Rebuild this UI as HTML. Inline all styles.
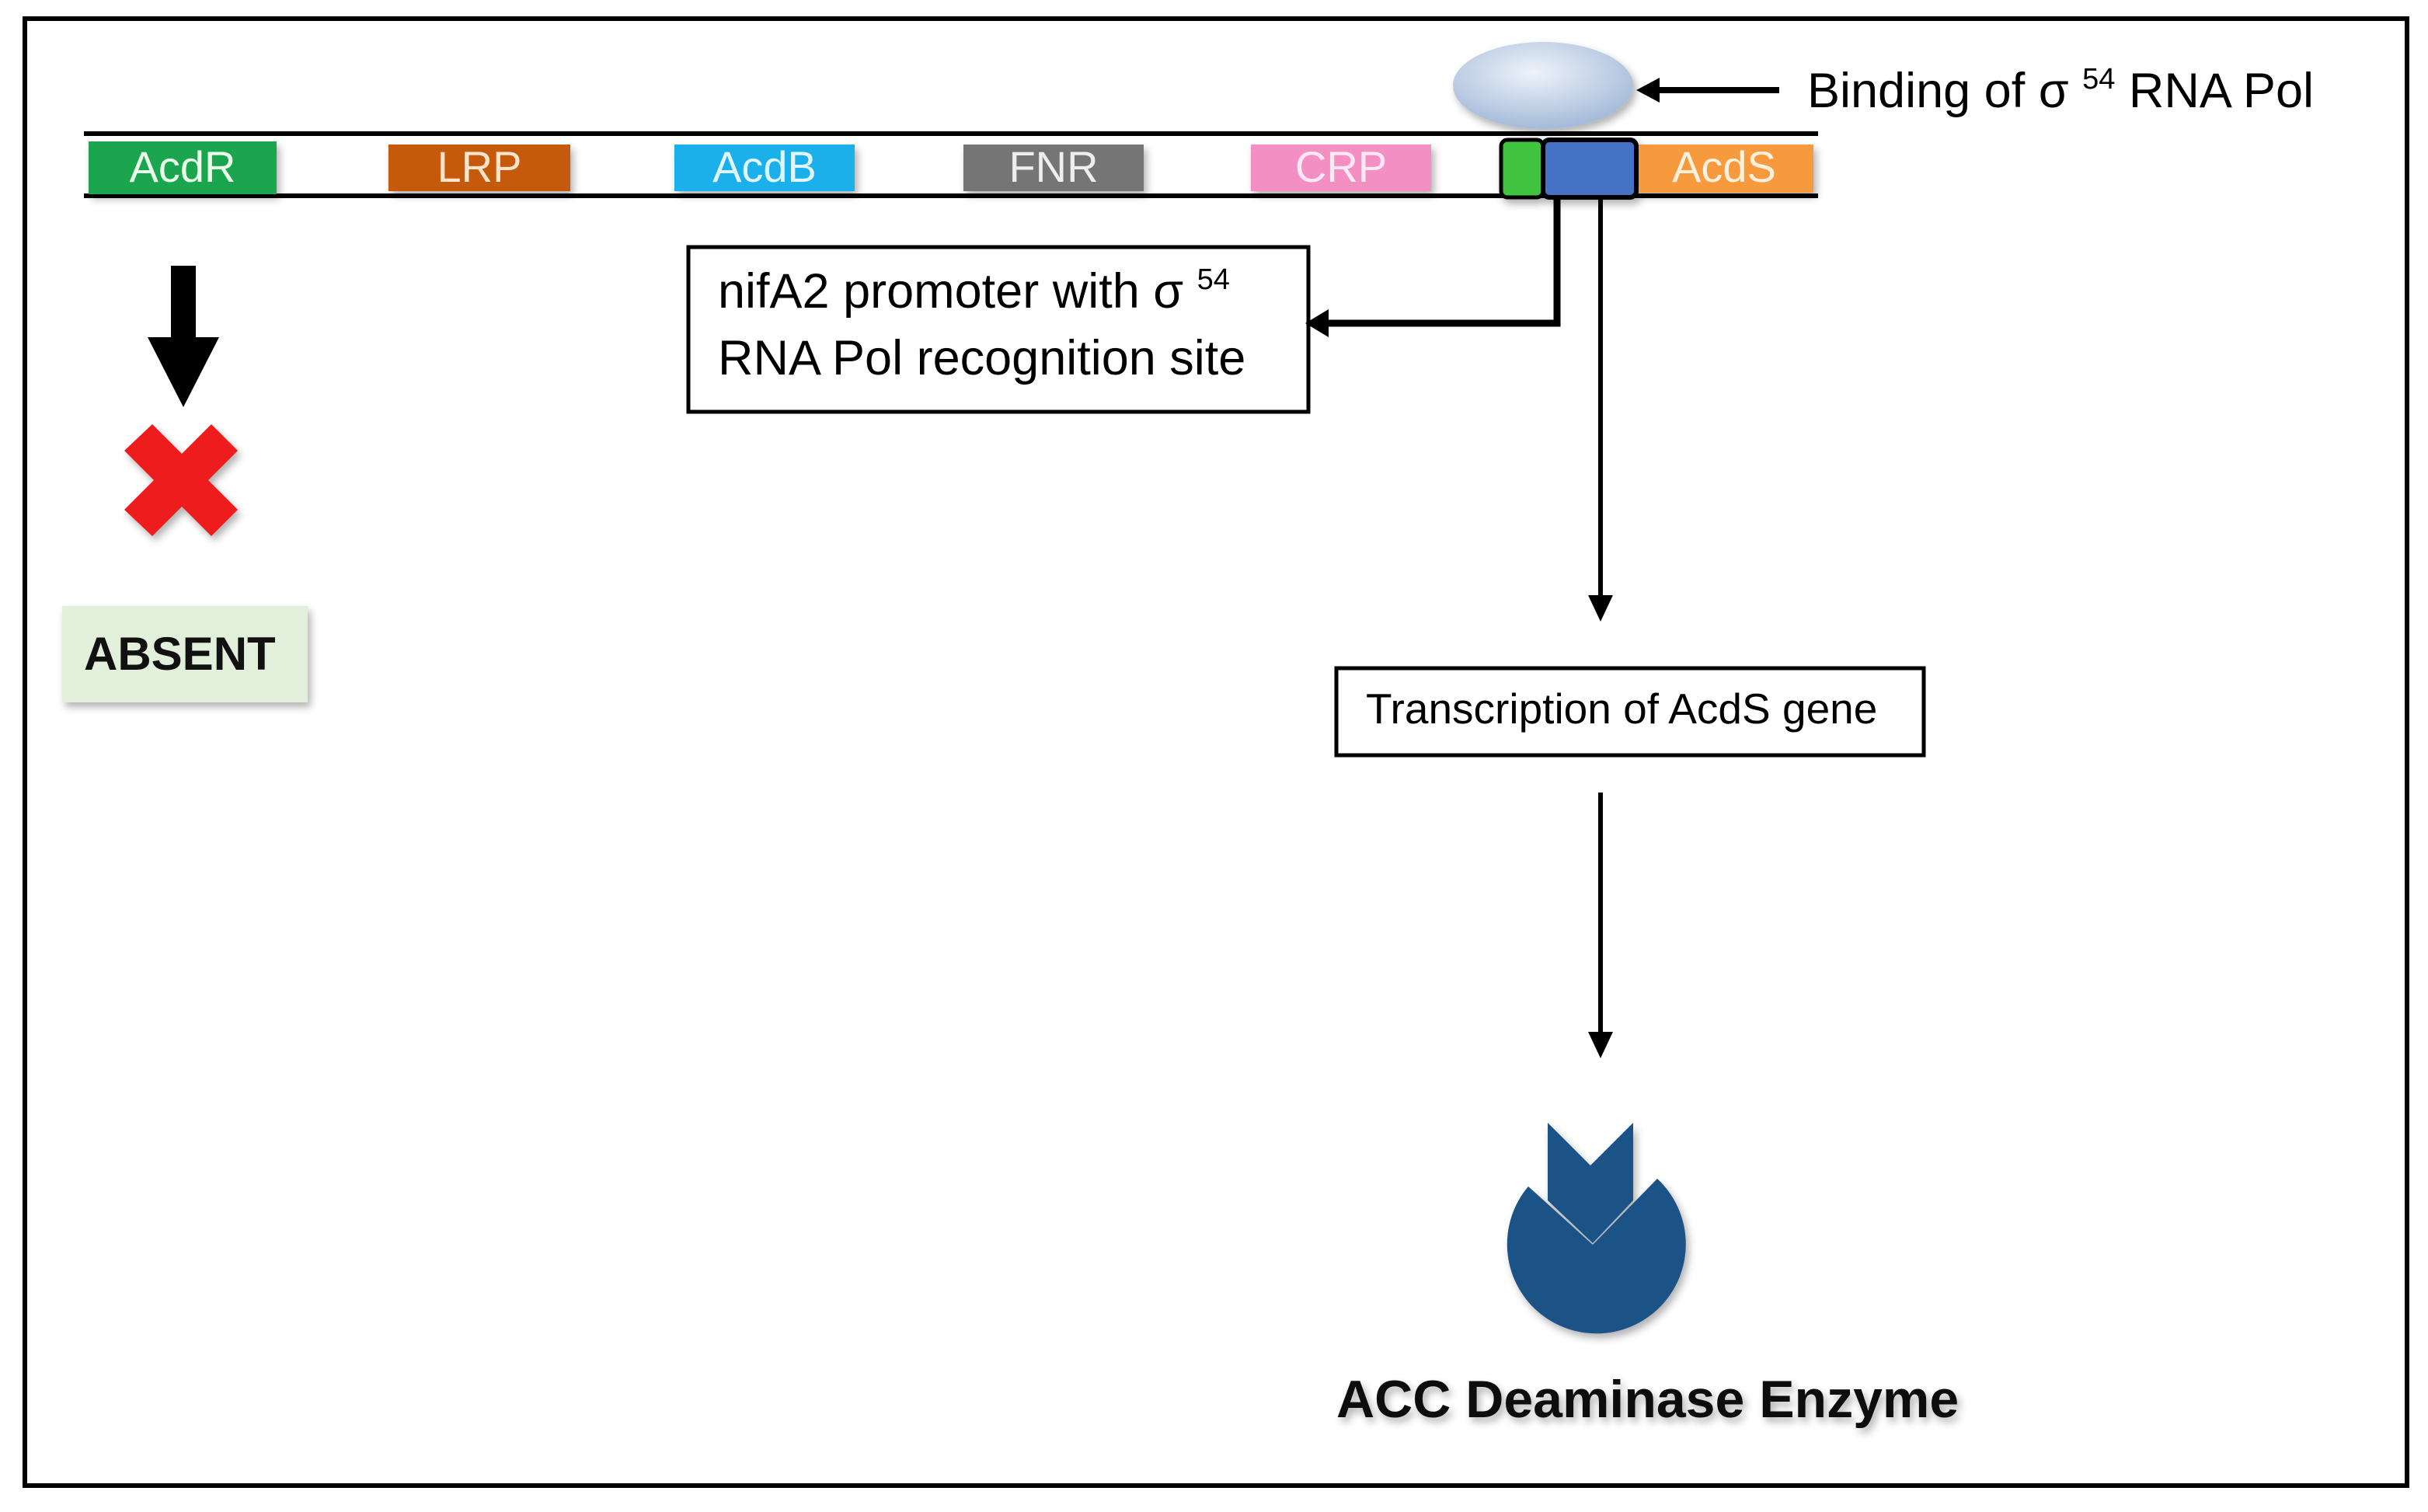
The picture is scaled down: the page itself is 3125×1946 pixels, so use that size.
<!DOCTYPE html>
<html><head><meta charset="utf-8"><style>
html,body{margin:0;padding:0;background:#fff;}
body{width:3125px;height:1941px;overflow:hidden;}
text{font-family:"Liberation Sans",sans-serif;}
</style></head><body>
<svg width="3125" height="1941" viewBox="0 0 3125 1941" xmlns="http://www.w3.org/2000/svg">
<defs>
<filter id="sh" x="-20%" y="-20%" width="140%" height="160%"><feDropShadow dx="4" dy="6" stdDeviation="5" flood-color="#000" flood-opacity="0.3"/></filter>
<radialGradient id="eg" cx="0.45" cy="0.35" r="0.7"><stop offset="0" stop-color="#eef3fa"/><stop offset="1" stop-color="#9fb6d6"/></radialGradient>
</defs>
<rect x="32" y="24" width="3066" height="1888" fill="#fff" stroke="#000" stroke-width="6"/>
<!-- DNA -->
<line x1="108" y1="172" x2="2340" y2="172" stroke="#000" stroke-width="6"/>
<line x1="108" y1="252" x2="2340" y2="252" stroke="#000" stroke-width="6"/>
<g filter="url(#sh)" font-size="56" fill="#fff" text-anchor="middle">
<rect x="114" y="182" width="242" height="68" fill="#1aa550"/>
<text x="235" y="234" fill="#e8ffe8">AcdR</text>
<rect x="500" y="186" width="234" height="60" fill="#c55a11"/>
<text x="617" y="234" fill="#fde4cc">LRP</text>
<rect x="868" y="186" width="232" height="60" fill="#1ab0ea"/>
<text x="984" y="234" fill="#e0f6ff">AcdB</text>
<rect x="1240" y="186" width="232" height="60" fill="#747474"/>
<text x="1356" y="234" fill="#eee">FNR</text>
<rect x="1610" y="186" width="232" height="60" fill="#f48fc4"/>
<text x="1726" y="234" fill="#ffe8f4">CRP</text>
<rect x="2104" y="186" width="230" height="62" fill="#f79a3e"/>
<text x="2219" y="234" fill="#fff0dc">AcdS</text>
<rect x="1932" y="180" width="54" height="74" rx="8" fill="#3fc43f" stroke="#000" stroke-width="5"/>
<rect x="1986" y="180" width="120" height="74" rx="8" fill="#4472c4" stroke="#000" stroke-width="6"/>
</g>
<ellipse cx="1986" cy="110" rx="116" ry="56" fill="url(#eg)" filter="url(#sh)"/>
<!-- binding arrow -->
<line x1="2290" y1="116" x2="2130" y2="116" stroke="#000" stroke-width="8"/>
<polygon points="2106,116 2136,100 2136,132" fill="#000"/>
<text x="2326" y="138" font-size="63">Binding of σ <tspan font-size="38" dy="-24">54</tspan><tspan dy="24"> RNA Pol</tspan></text>
<!-- nifA box -->
<rect x="886" y="318" width="798" height="212" fill="#fff" stroke="#000" stroke-width="5"/>
<text x="924" y="396" font-size="63">nifA2 promoter with σ <tspan font-size="38" dy="-24">54</tspan></text>
<text x="924" y="482" font-size="63">RNA Pol recognition site</text>
<polyline points="2004,254 2004,416 1704,416" fill="none" stroke="#000" stroke-width="9"/>
<polygon points="1680,416 1710,398 1710,434" fill="#000"/>
<!-- long arrow -->
<line x1="2060" y1="254" x2="2060" y2="770" stroke="#000" stroke-width="6"/>
<polygon points="2060,800 2044,766 2076,766" fill="#000"/>
<rect x="1720" y="860" width="756" height="112" fill="#fff" stroke="#000" stroke-width="5"/>
<text x="1758" y="931" font-size="55">Transcription of AcdS gene</text>
<line x1="2060" y1="1020" x2="2060" y2="1330" stroke="#000" stroke-width="6"/>
<polygon points="2060,1362 2044,1328 2076,1328" fill="#000"/>
<!-- enzyme -->
<g fill="#1f5287" filter="url(#sh)">
<path d="M2050,1602 L1967,1527 A115,115 0 1 0 2133,1517 Z"/>
<polygon points="1992,1445 2047,1500 2102,1445 2102,1545 2050,1600 1992,1545"/>
</g>
<text x="1720" y="1824" font-size="68" font-weight="bold" fill="#111" filter="url(#sh)">ACC Deaminase Enzyme</text>
<!-- left -->
<rect x="220" y="342" width="32" height="96" fill="#000"/>
<polygon points="190,434 282,434 236,524" fill="#000"/>
<g filter="url(#sh)" fill="#ee1c1c">
<polygon points="160,580 196,546 234,584 272,546 306,580 268,618 306,656 272,690 234,652 196,690 160,656 198,618"/>
</g>
<rect x="80" y="780" width="316" height="124" fill="#e2efda" filter="url(#sh)"/>
<text x="108" y="862" font-size="60" font-weight="bold" fill="#111">ABSENT</text>
</svg>
</body></html>
